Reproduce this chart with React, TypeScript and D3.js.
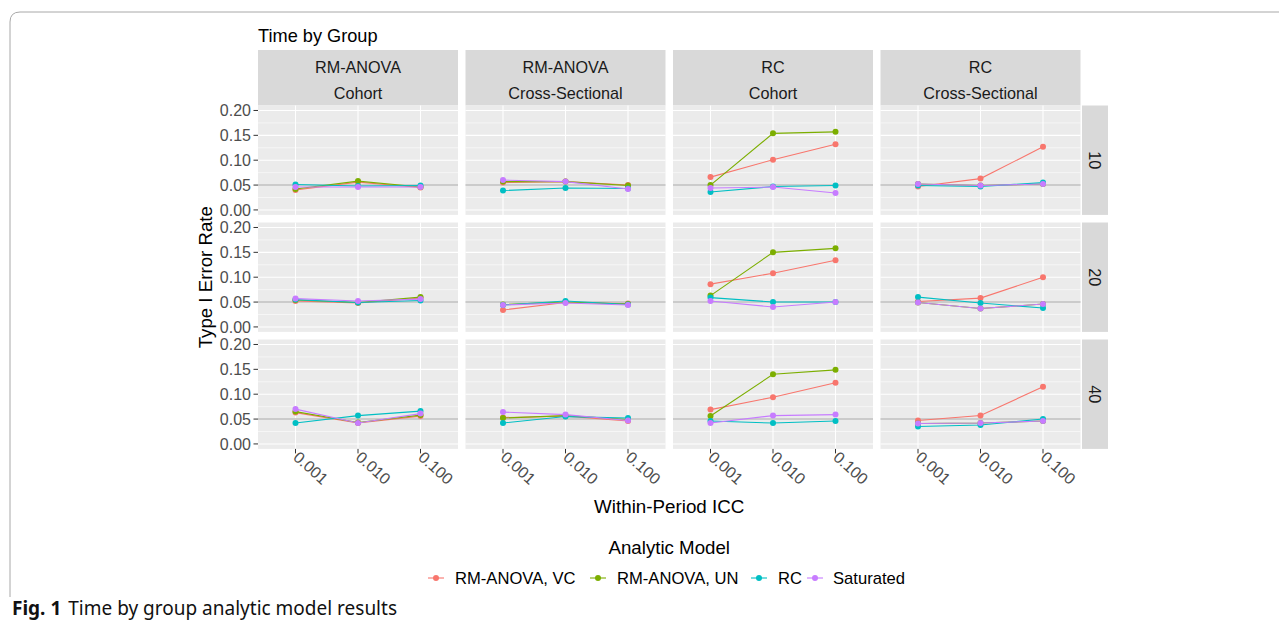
import React from 'react';
import * as d3 from 'd3';

// facets
const designs = [
  ['RM-ANOVA', 'Cohort'],
  ['RM-ANOVA', 'Cross-Sectional'],
  ['RC', 'Cohort'],
  ['RC', 'Cross-Sectional'],
];
const sizes = ['10', '20', '40'];
const iccs = ['0.001', '0.010', '0.100'];
const yTicks = [0, 0.05, 0.1, 0.15, 0.2];
const yMinor = [0.025, 0.075, 0.125, 0.175];

const models = ['RM-ANOVA, VC', 'RM-ANOVA, UN', 'RC', 'Saturated'];
const colors = ['#F8766D', '#7CAE00', '#00BFC4', '#C77CFF'];

// values[row = size][col = design][icc]
const rmAnovaVC = [
  [[0.040, 0.056, 0.045], [0.055, 0.057, 0.050], [0.066, 0.101, 0.132], [0.047, 0.063, 0.127]],
  [[0.052, 0.048, 0.058], [0.034, 0.049, 0.047], [0.086, 0.108, 0.134], [0.051, 0.058, 0.100]],
  [[0.063, 0.042, 0.056], [0.053, 0.056, 0.046], [0.069, 0.094, 0.123], [0.047, 0.057, 0.115]],
];
const rmAnovaUN = [
  [[0.042, 0.058, 0.046], [0.057, 0.057, 0.049], [0.050, 0.154, 0.157], [0.052, 0.049, 0.052]],
  [[0.054, 0.049, 0.060], [0.045, 0.050, 0.046], [0.063, 0.150, 0.158], [0.049, 0.037, 0.046]],
  [[0.065, 0.043, 0.058], [0.052, 0.057, 0.049], [0.056, 0.140, 0.149], [0.041, 0.042, 0.046]],
];
const rcModel = [
  [[0.051, 0.048, 0.049], [0.039, 0.044, 0.043], [0.036, 0.047, 0.049], [0.049, 0.047, 0.055]],
  [[0.055, 0.049, 0.053], [0.044, 0.052, 0.045], [0.059, 0.050, 0.050], [0.060, 0.048, 0.038]],
  [[0.042, 0.057, 0.066], [0.042, 0.055, 0.052], [0.046, 0.042, 0.046], [0.035, 0.038, 0.050]],
];
const saturated = [
  [[0.046, 0.046, 0.046], [0.060, 0.057, 0.042], [0.044, 0.046, 0.034], [0.052, 0.049, 0.052]],
  [[0.057, 0.052, 0.056], [0.044, 0.048, 0.044], [0.052, 0.040, 0.050], [0.049, 0.037, 0.046]],
  [[0.070, 0.042, 0.061], [0.064, 0.059, 0.047], [0.042, 0.057, 0.059], [0.041, 0.042, 0.046]],
];
const series = [rmAnovaVC, rmAnovaUN, rcModel, saturated];

const font = '"Liberation Sans", Arial, sans-serif';

const left = 258;
const top0 = 105.5;
const panelW = 200;
const panelH = 109.4;
const gapX = 7.5;
const gapY = 7.6;

const x = d3.scalePoint<string>().domain(iccs).range([0, panelW]).padding(0.6);
const y = d3.scaleLinear().domain([-0.01, 0.21]).range([panelH, 0]);
const line = d3
  .line<number>()
  .x((d, i) => x(iccs[i]) as number)
  .y((d) => y(d));

const App = () => {
  const legendItems = [
    { key: 436, label: 455 },
    { key: 598, label: 617 },
    { key: 759, label: 778 },
    { key: 815, label: 833 },
  ];
  const bottom = top0 + 3 * panelH + 2 * gapY;
  const axisMid = left + (4 * panelW + 3 * gapX) / 2;

  return (
    <svg width={1271} height={618} style={{ display: 'block' }} fontFamily={font}>
      <g transform="translate(-8,-8)">
        <path d="M10,597 L10,22 Q10,12 20,12 L1287,12" fill="none" stroke="#a8a8a8" strokeWidth={1} />

        <text x={left} y={42} fontSize={18.2} fill="#000">Time by Group</text>

        {/* top strips */}
        {designs.map((d, c) => {
          const px = left + c * (panelW + gapX);
          return (
            <g key={'s' + c}>
              <rect x={px} y={50} width={panelW} height={top0 - 50} fill="#D9D9D9" />
              <text x={px + panelW / 2} y={73} textAnchor="middle" fontSize={16.2} fill="#1A1A1A">{d[0]}</text>
              <text x={px + panelW / 2} y={99} textAnchor="middle" fontSize={16.2} fill="#1A1A1A">{d[1]}</text>
            </g>
          );
        })}

        {sizes.map((s, r) => {
          const py = top0 + r * (panelH + gapY);
          const sx = left + 4 * panelW + 3 * gapX + 1.5;
          return (
            <g key={'r' + r}>
              <rect x={sx} y={py} width={26} height={panelH} fill="#D9D9D9" />
              <text
                transform={`translate(${sx + 13},${py + panelH / 2}) rotate(90)`}
                textAnchor="middle"
                dy="0.35em"
                fontSize={16.2}
                fill="#1A1A1A"
              >
                {s}
              </text>
              {/* y axis */}
              <g transform={`translate(${left},${py})`}>
                {yTicks.map((t) => (
                  <g key={t}>
                    <line x1={-4.5} x2={0} y1={y(t)} y2={y(t)} stroke="#333" strokeWidth={1} />
                    <text x={-7} y={y(t)} dy="0.35em" textAnchor="end" fontSize={16} fill="#4D4D4D">
                      {t.toFixed(2)}
                    </text>
                  </g>
                ))}
              </g>
              {designs.map((d, c) => {
                const px = left + c * (panelW + gapX);
                return (
                  <g key={c} transform={`translate(${px},${py})`}>
                    <rect width={panelW} height={panelH} fill="#EBEBEB" />
                    {yMinor.map((t) => (
                      <line key={t} x1={0} x2={panelW} y1={y(t)} y2={y(t)} stroke="#fff" strokeWidth={0.55} />
                    ))}
                    {yTicks.map((t) => (
                      <line key={t} x1={0} x2={panelW} y1={y(t)} y2={y(t)} stroke="#fff" strokeWidth={1.1} />
                    ))}
                    {iccs.map((v) => (
                      <line key={v} x1={x(v)} x2={x(v)} y1={0} y2={panelH} stroke="#fff" strokeWidth={1.1} />
                    ))}
                    <line x1={0} x2={panelW} y1={y(0.05)} y2={y(0.05)} stroke="#BDBDBD" strokeWidth={1.4} />
                    {series.map((m, k) => (
                      <g key={k}>
                        <path d={line(m[r][c]) as string} fill="none" stroke={colors[k]} strokeWidth={1.1} />
                        {m[r][c].map((v, i) => (
                          <circle key={i} cx={x(iccs[i])} cy={y(v)} r={3} fill={colors[k]} />
                        ))}
                      </g>
                    ))}
                  </g>
                );
              })}
            </g>
          );
        })}

        {/* x axes */}
        {designs.map((d, c) => {
          const px = left + c * (panelW + gapX);
          return (
            <g key={'x' + c} transform={`translate(${px},${bottom})`}>
              {iccs.map((v) => (
                <g key={v} transform={`translate(${x(v)},0)`}>
                  <line y1={0} y2={4.5} stroke="#333" strokeWidth={1} />
                  <text transform="translate(1,5) rotate(42)" dy="0.4em" fontSize={16} fill="#4D4D4D">
                    {v}
                  </text>
                </g>
              ))}
            </g>
          );
        })}

        <text x={axisMid} y={513} textAnchor="middle" fontSize={18.8} fill="#000">Within-Period ICC</text>
        <text
          transform={`translate(212,${top0 + (bottom - top0) / 2}) rotate(-90)`}
          textAnchor="middle"
          fontSize={18.7}
          fill="#000"
        >
          Type I Error Rate
        </text>

        {/* legend */}
        <text x={axisMid} y={554} textAnchor="middle" fontSize={18.7} fill="#000">Analytic Model</text>
        {models.map((m, k) => (
          <g key={m}>
            <line x1={legendItems[k].key - 8} x2={legendItems[k].key + 8} y1={578} y2={578} stroke={colors[k]} strokeWidth={1.1} />
            <circle cx={legendItems[k].key} cy={578} r={3} fill={colors[k]} />
            <text x={legendItems[k].label} y={578} dy="0.35em" fontSize={16.6} fill="#000">{m}</text>
          </g>
        ))}

        <text x={12} y={615} fontSize={19} fontFamily='"Noto Sans", sans-serif' fill="#111">
          <tspan fontWeight="bold">Fig. 1</tspan>
          <tspan dx={7}>Time by group analytic model results</tspan>
        </text>
      </g>
    </svg>
  );
};

export default App;
